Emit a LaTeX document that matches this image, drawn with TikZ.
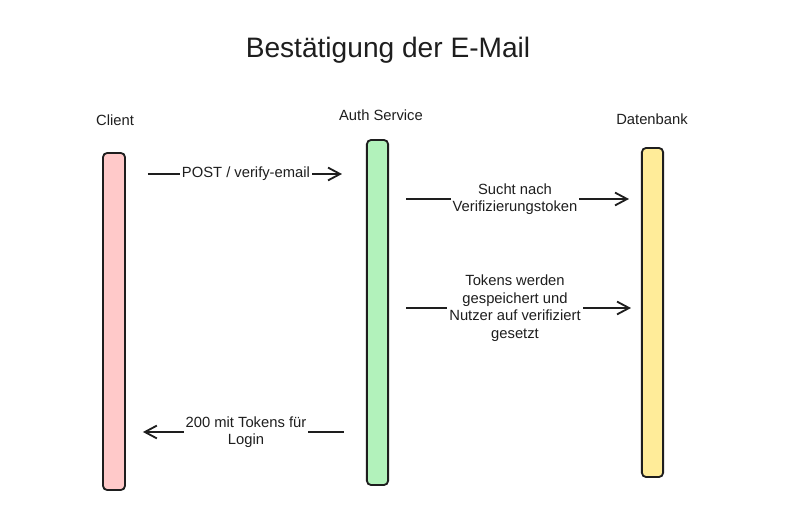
\documentclass[tikz,border=0pt]{standalone}
\usepackage{fontspec}
\setmainfont{Liberation Sans}
\usetikzlibrary{arrows.meta, positioning}
\definecolor{client}{HTML}{FFC9C9}
\definecolor{auth}{HTML}{B2F2BB}
\definecolor{db}{HTML}{FFEC99}
\definecolor{ink}{HTML}{1E1E1E}

\begin{document}
\begin{tikzpicture}[x=0.025cm, y=-0.025cm, font=\fontsize{10.5}{12.5}\selectfont,
  bar/.style={draw=ink, line width=1.3pt, rounded corners=3pt, minimum width=5.3mm},
  msg/.style={-{Straight Barb[length=3mm, width=3.2mm]}, line width=1.3pt, ink},
  lbl/.style={fill=white, align=center, inner sep=1.5pt, text=ink}]
  \useasboundingbox (0,0) rectangle (800,517);
  \node[font=\fontsize{20}{24}\selectfont, text=ink] (title) at (388,50) {Bestätigung der E-Mail};
  \node[bar, fill=client, minimum width=5.5mm, minimum height=84.25mm] (cl) at (114,321.5) {};
  \node[bar, fill=auth, minimum height=86.25mm] (au) at (377.5,312.5) {};
  \node[bar, fill=db, minimum height=82.25mm] (db) at (652.5,312.5) {};
  \node[text=ink] (clname) at (115,120) {Client};
  \node[text=ink] (auname) at (381,115) {Auth Service};
  \node[text=ink] (dbname) at (652,119) {Datenbank};
  \coordinate (m1) at (0,174);
  \coordinate (m2) at (0,199);
  \coordinate (m3) at (0,308);
  \coordinate (m4) at (0,432);
  \draw[msg, shorten <=5.5mm, shorten >=6mm] (cl.east |- m1) -- node[lbl] {POST / verify-email} (au.west |- m1);
  \draw[msg, shorten <=4.25mm, shorten >=3mm] (au.east |- m2) -- node[lbl] {Sucht nach\\ Verifizierungstoken} (db.west |- m2);
  \draw[msg, shorten <=4.25mm, shorten >=2.5mm] (au.east |- m3) -- node[lbl] {Tokens werden\\ gespeichert und\\ Nutzer auf verifiziert\\ gesetzt} (db.west |- m3);
  \draw[msg, shorten <=5.5mm, shorten >=4.25mm] (au.west |- m4) -- node[lbl] {200 mit Tokens für\\ Login} (cl.east |- m4);
\end{tikzpicture}
\end{document}
